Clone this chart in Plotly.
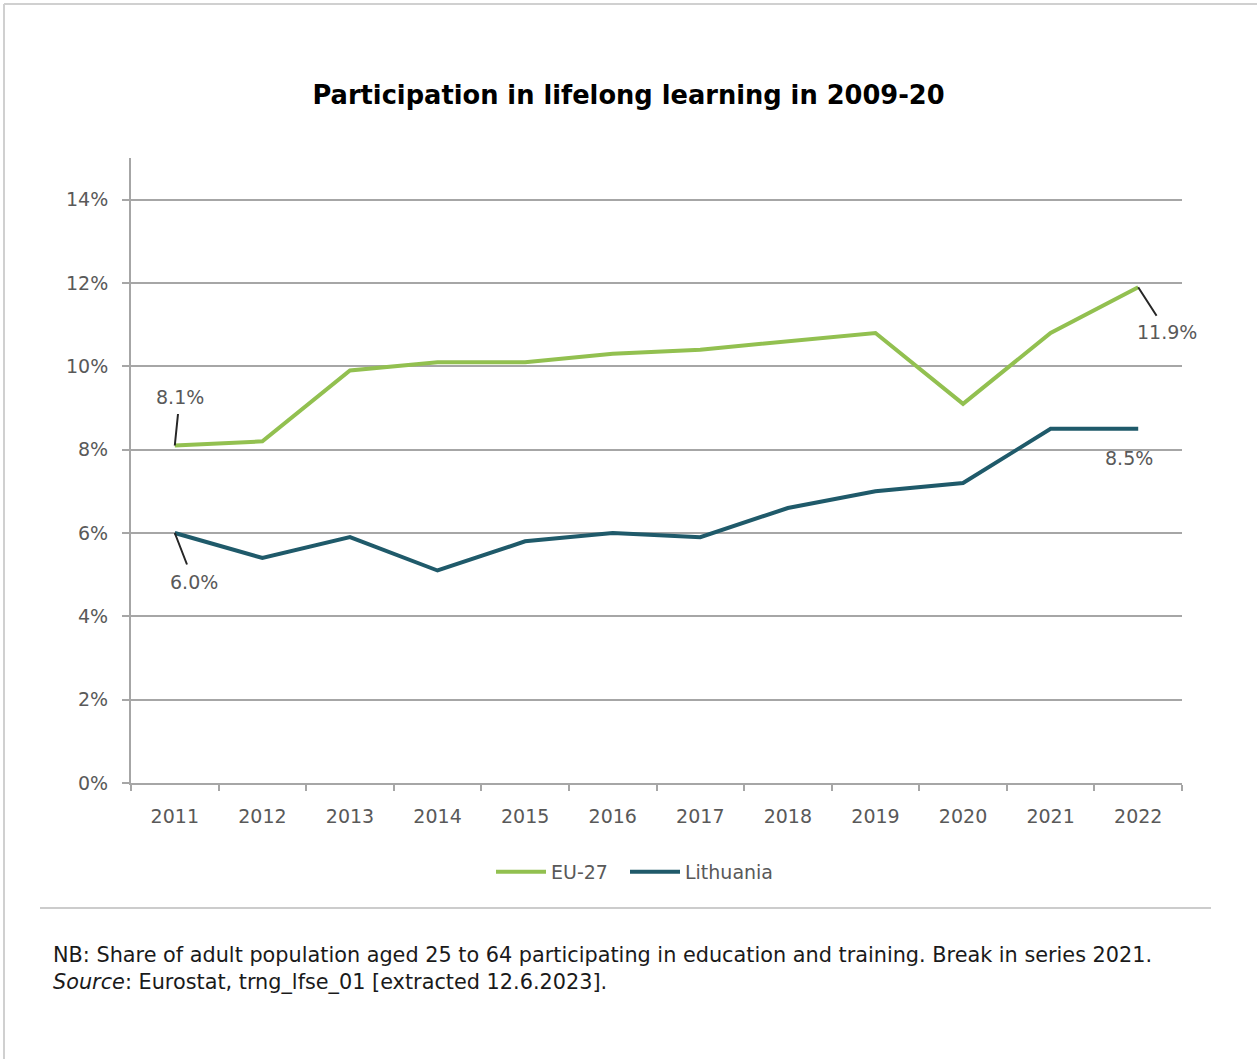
import plotly.graph_objects as go

years = ["2011", "2012", "2013", "2014", "2015", "2016", "2017", "2018", "2019", "2020", "2021", "2022"]
eu27 = [8.1, 8.2, 9.9, 10.1, 10.1, 10.3, 10.4, 10.6, 10.8, 9.1, 10.8, 11.9]
lithuania = [6.0, 5.4, 5.9, 5.1, 5.8, 6.0, 5.9, 6.6, 7.0, 7.2, 8.5, 8.5]
y_ticks = [0, 2, 4, 6, 8, 10, 12, 14]
y_labels = [f"{v}%" for v in y_ticks]

W, H = 1257, 1059
L, R, T, B = 131, 1182, 158, 783
PW, PH = R - L, B - T


def px(x):
    return (x - L) / PW


def py(y):
    return (B - y) / PH


GREEN = "#92c050"
TEAL = "#1f5a6a"
GRID = "#a6a6a6"
TICKC = "#595959"
FONT = "DejaVu Sans"

fig = go.Figure()
fig.add_trace(go.Scatter(x=years, y=eu27, name="EU-27", mode="lines",
                         line=dict(color=GREEN, width=4), legend="legend"))
fig.add_trace(go.Scatter(x=years, y=lithuania, name="Lithuania", mode="lines",
                         line=dict(color=TEAL, width=4), legend="legend2"))

leg_common = dict(orientation="h", xanchor="left", yanchor="middle", y=py(872),
                  font=dict(family=FONT, size=19, color=TICKC), itemwidth=50,
                  bgcolor="rgba(0,0,0,0)")

fig.update_layout(
    width=W, height=H,
    margin=dict(l=L, r=W - R, t=T, b=H - B, autoexpand=False),
    paper_bgcolor="white", plot_bgcolor="white",
    font=dict(family=FONT, color=TICKC, size=18),
    title=dict(text="<b>Participation in lifelong learning in 2009-20</b>",
               x=0.5, xref="container", xanchor="center",
               y=1 - 95 / H, yref="container", yanchor="middle",
               font=dict(family=FONT, size=25.7, color="black")),
    showlegend=True,
    legend=dict(x=px(491), **leg_common),
    legend2=dict(x=px(625), **leg_common),
    xaxis=dict(type="category", tickson="boundaries", showgrid=False,
               range=[-0.5, len(years) - 0.5], autorange=False,
               showline=True, linecolor=GRID, linewidth=2,
               ticks="outside", ticklen=6, tickwidth=2, tickcolor=GRID,
               tickangle=0,
               tickfont=dict(family=FONT, size=19, color=TICKC),
               ticklabelstandoff=15, fixedrange=True),
    yaxis=dict(range=[0, 15], autorange=False, tickmode="array",
               tickvals=y_ticks, ticktext=y_labels,
               showgrid=True, gridcolor=GRID, gridwidth=2,
               showline=True, linecolor=GRID, linewidth=2,
               ticks="outside", ticklen=7, tickwidth=2, tickcolor=GRID,
               tickfont=dict(family=FONT, size=19, color=TICKC),
               ticklabelstandoff=10, zeroline=False, fixedrange=True),
)

# Data labels with leader lines (x given as category index)
lab_font = dict(family=FONT, size=19, color=TICKC)
first, last = 0, len(years) - 1
fig.add_annotation(x=first, y=eu27[first], text=f"{eu27[first]:.1f}%", showarrow=True,
                   arrowhead=0, arrowwidth=2, arrowcolor="#262626",
                   ax=5, ay=-49, borderpad=6, font=lab_font)
fig.add_annotation(x=first, y=lithuania[first], text=f"{lithuania[first]:.1f}%", showarrow=True,
                   arrowhead=0, arrowwidth=2, arrowcolor="#262626",
                   ax=19, ay=49, borderpad=6, font=lab_font)
fig.add_annotation(x=last, y=eu27[last], text=f"{eu27[last]:.1f}%", showarrow=True,
                   arrowhead=0, arrowwidth=2, arrowcolor="#262626",
                   ax=29, ay=45, borderpad=5, font=lab_font)
fig.add_annotation(x=last, y=lithuania[last], text=f"{lithuania[last]:.1f}%", showarrow=False,
                   xshift=-9, yshift=-29, font=lab_font)

# Notes
note_font = dict(family=FONT, size=20.8, color="#1a1a1a")
fig.add_annotation(xref="paper", yref="paper", x=px(51), y=py(955), xanchor="left", yanchor="middle",
                   showarrow=False, align="left",
                   text="NB: Share of adult population aged 25 to 64 participating in education and training. Break in series 2021.",
                   font=note_font)
fig.add_annotation(xref="paper", yref="paper", x=px(51), y=py(982), xanchor="left", yanchor="middle",
                   showarrow=False, align="left",
                   text="<i>Source</i>: Eurostat, trng_lfse_01 [extracted 12.6.2023].",
                   font=note_font)

# Separator and frame
fig.add_shape(type="line", xref="paper", yref="paper", x0=px(40), x1=px(1211), y0=py(908), y1=py(908),
              line=dict(color="#cccccc", width=2))
fig.add_shape(type="line", xref="paper", yref="paper", x0=px(4), x1=px(1257), y0=py(4), y1=py(4),
              line=dict(color="#d0d0d0", width=2))
fig.add_shape(type="line", xref="paper", yref="paper", x0=px(4), x1=px(4), y0=py(4), y1=py(1059),
              line=dict(color="#d0d0d0", width=2))

fig.write_html("out.html", config={"displayModeBar": False},
               post_script="document.body.style.margin='0';document.body.style.overflow='hidden';")
